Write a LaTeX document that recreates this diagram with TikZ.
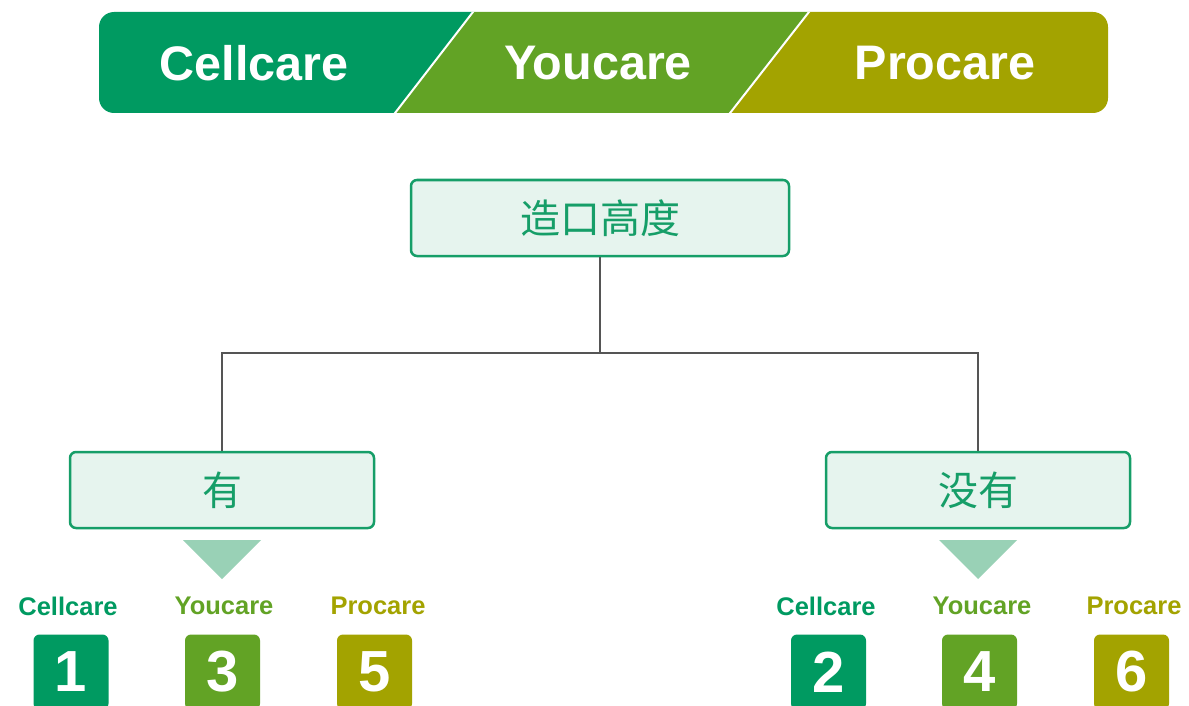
\documentclass[tikz,border=0pt]{standalone}
\usepackage{fontspec}
\setmainfont{Liberation Sans}
\newfontfamily\cjk{Noto Sans CJK SC}
\definecolor{cgreen}{RGB}{0,154,97}
\definecolor{ygreen}{RGB}{98,163,37}
\definecolor{polive}{RGB}{163,163,0}
\definecolor{boxfill}{RGB}{230,244,238}
\definecolor{boxline}{RGB}{22,158,104}
\definecolor{tri}{RGB}{153,209,182}
\definecolor{conn}{RGB}{85,85,85}
\tikzset{
  qbox/.style={draw=boxline, fill=boxfill, line width=2.5pt, rounded corners=6pt,
    minimum width=378pt, minimum height=76pt, inner sep=0pt, text=boxline,
    font=\cjk\fontsize{40}{44}\selectfont},
  abox/.style={qbox, minimum width=304pt},
  bantext/.style={text=white, font=\bfseries\fontsize{48.5}{52}\selectfont},
  lab/.style={font=\bfseries\fontsize{25.5}{28}\selectfont, inner sep=0pt},
  num/.style={rounded corners=6pt, minimum width=75pt, minimum height=75pt,
    inner sep=0pt, text=white, font=\bfseries\fontsize{58}{62}\selectfont},
  conline/.style={draw=conn, line width=2.5pt},
}
\begin{document}
\begin{tikzpicture}[x=1pt,y=-1pt]
\useasboundingbox (0,0) rectangle (1189,706);
% banner
\begin{scope}
  \clip[rounded corners=15pt] (99,12) rectangle (1108,113);
  \fill[cgreen] (90,5) -- (473,5) -- (473,12) -- (395,113) -- (395,120) -- (90,120) -- cycle;
  \fill[ygreen] (473,5) -- (809,5) -- (809,12) -- (730,113) -- (730,120) -- (395,120) -- (395,113) -- (473,12) -- cycle;
  \fill[polive] (809,5) -- (1115,5) -- (1115,120) -- (730,120) -- (730,113) -- (809,12) -- cycle;
  \draw[white, line width=2pt] (474.5,10) -- (393.5,115);
  \draw[white, line width=2pt] (810.5,10) -- (728.5,115);
\end{scope}
\node[bantext] (b1) at (254,63) {Cellcare};
\node[bantext] (b2) at (598,63) {Youcare};
\node[bantext] (b3) at (945,63) {Procare};
% tree
\node[qbox] (root) at (600,218) {造口高度};
\node[abox] (yes) at (222,490) {有};
\node[abox] (no) at (978,490) {没有};
\coordinate (j) at (600,353);
\draw[conline] (root.south) -- (j);
\draw[conline] (j) -| (yes.north);
\draw[conline] (j) -| (no.north);
% triangles
\fill[tri] (183,540) -- (261,540) -- (222,579) -- cycle;
\fill[tri] (939,540) -- (1017,540) -- (978,579) -- cycle;
% labels
\node[lab, text=cgreen] (l1) at (68,606) {Cellcare};
\node[lab, text=ygreen] (l3) at (224,606) {Youcare};
\node[lab, text=polive] (l5) at (378,606) {Procare};
\node[lab, text=cgreen] (l2) at (826,606) {Cellcare};
\node[lab, text=ygreen] (l4) at (982,606) {Youcare};
\node[lab, text=polive] (l6) at (1134,606) {Procare};
% numbers
\node[num, fill=cgreen] (n1) at (71,672) {1};
\node[num, fill=ygreen] (n3) at (222.5,672) {3};
\node[num, fill=polive] (n5) at (374.5,672) {5};
\node[num, fill=cgreen] (n2) at (828.5,672) {2};
\node[num, fill=ygreen] (n4) at (979.5,672) {4};
\node[num, fill=polive] (n6) at (1131.5,672) {6};
\end{tikzpicture}
\end{document}
